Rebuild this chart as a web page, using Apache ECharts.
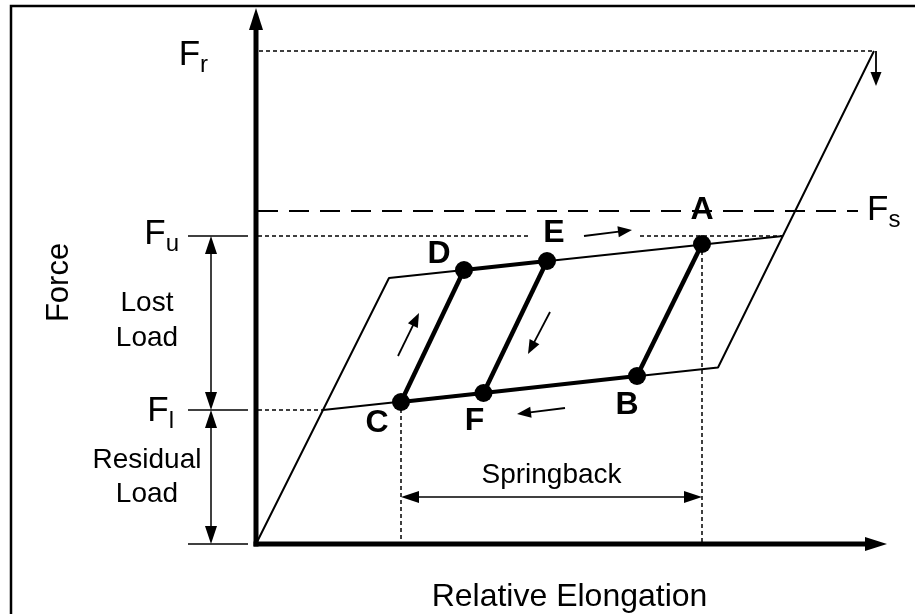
<!DOCTYPE html>
<html>
<head>
<meta charset="utf-8">
<script src="https://cdn.jsdelivr.net/npm/echarts@6/dist/echarts.min.js"></script>
<style>html,body{margin:0;padding:0;background:#fff}#c{width:915px;height:614px}</style>
</head>
<body>
<div id="c"></div>
<script>
// ---------- values (x: relative elongation, y: force, arbitrary units)
const forceLevels = [49.3, 33.3, 30.8, 13.4];          // F_r, F_s, F_u, F_l
const levelSubs = ['r', 's', 'u', 'l'];
const envelopeUpper = [[0, 0], [13.3, 26.6], [52.7, 30.8]];
const envelopeLower = [[6.7, 13.4], [46.2, 17.65], [61.8, 49.3]];
const pointNames = ['A', 'B', 'C', 'D', 'E', 'F'];
const pointX = [44.6, 38.1, 14.5, 20.8, 29.1, 22.75];
const pointY = [30.0, 16.8, 14.2, 27.4, 28.3, 15.1];
const boldPaths = [['C', 'D'], ['F', 'E'], ['B', 'A'], ['D', 'E'], ['C', 'F', 'B']];
const axisEnds = [63.1, 53.6];                          // end of elongation axis, end of force axis
const flowArrows = [
  [32.8, 30.8, 37.6, 31.4],
  [14.2, 18.8, 16.3, 23.1],
  [29.4, 23.2, 27.2, 19.0],
  [30.9, 13.6, 26.1, 13.0],
  [62.0, 49.3, 62.0, 45.8]
];
const fuGuideGap = [27.2, 38.4];   // where the F_u guide is interrupted
const fsGuideEnd = 60.2;
const springbackLevel = 4.7;
const dimensionX = -4.5;           // x of the Lost/Residual load dimension arrows
const tickSpan = [-6.8, -0.8];

// ---------- helpers
const FONT = '"Liberation Sans", Arial, Helvetica, sans-serif';
const [F_r, F_s, F_u, F_l] = forceLevels;
const P = name => { const i = pointNames.indexOf(name); return [pointX[i], pointY[i]]; };
const G0 = 0.2;

function pathSeries(points, width, dash, z) {
  return {
    type: 'line', data: points, symbol: 'none', silent: true, z: z || 2,
    lineStyle: { color: '#000', width: width, type: dash || 'solid', cap: 'butt', opacity: 1 }
  };
}

function arrowSeries(data, o) {
  return {
    type: 'custom', coordinateSystem: 'cartesian2d', data: data, silent: true, z: o.z || 4,
    encode: { x: [0, 2], y: [1, 3] },
    renderItem: function (params, api) {
      const a = api.coord([api.value(0), api.value(1)]);
      const b = api.coord([api.value(2), api.value(3)]);
      const dx = b[0] - a[0], dy = b[1] - a[1], L = Math.hypot(dx, dy);
      const ux = dx / L, uy = dy / L, px = -uy, py = ux;
      const hl = o.headLen, hw = o.headWidth / 2;
      const head = (t, sx, sy) => ({
        type: 'polygon',
        shape: { points: [t, [t[0] - sx * hl + px * hw, t[1] - sy * hl + py * hw], [t[0] - sx * hl - px * hw, t[1] - sy * hl - py * hw]] },
        style: { fill: '#000' }
      });
      const s = o.both ? [a[0] + ux * hl * 0.8, a[1] + uy * hl * 0.8] : a;
      const e = [b[0] - ux * hl * 0.8, b[1] - uy * hl * 0.8];
      const children = [
        { type: 'line', shape: { x1: s[0], y1: s[1], x2: e[0], y2: e[1] }, style: { stroke: '#000', lineWidth: o.lineWidth, lineCap: o.cap || 'butt' } },
        head(b, ux, uy)
      ];
      if (o.both) children.push(head(a, -ux, -uy));
      return { type: 'group', children: children };
    }
  };
}

const subRich = {
  F: { fontSize: 35, fontFamily: FONT },
  s: { fontSize: 24, fontFamily: FONT, verticalAlign: 'top', padding: [20, 0, 0, 0] }
};

// annotation texts anchored to chart values (layout offsets in px)
const annotations = [
  { at: [-4.8, F_r], text: '{F|F}{s|' + levelSubs[0] + '}', align: 'right', rich: subRich, dy: 4 },
  { at: [61.1, F_s], text: '{F|F}{s|' + levelSubs[1] + '}', align: 'left', rich: subRich, dy: -1 },
  { at: [-7.7, F_u], text: '{F|F}{s|' + levelSubs[2] + '}', align: 'right', rich: subRich, dy: -2 },
  { at: [-8.2, F_l], text: '{F|F}{s|' + levelSubs[3] + '}', align: 'right', rich: subRich, dy: 1 },
  { at: [-10.9, (F_u + F_l) / 2], text: 'Lost\nLoad', align: 'center', size: 28, lh: 35, dy: -2 },
  { at: [-10.9, F_l / 2], text: 'Residual\nLoad', align: 'center', size: 28, lh: 34 },
  { at: [(P('C')[0] + P('A')[0]) / 2, springbackLevel], text: 'Springback', align: 'center', size: 28, dy: -22 },
  { at: [axisEnds[0] / 2, 0], text: 'Relative Elongation', align: 'center', size: 32, dx: -2, dy: 53 },
  { at: [0, axisEnds[1] / 2], text: 'Force', align: 'center', size: 31, dx: -196.5, dy: 6.5, rot: Math.PI / 2 }
];

const labelOffsets = [[0, -34], [-10, 29], [-24, 21], [-25, -16], [7, -28], [-9, 28]];

const series = [];
// envelope (thin)
series.push(pathSeries(envelopeUpper, 2));
series.push(pathSeries(envelopeLower, 2));
// bold paths
boldPaths.forEach(p => series.push(pathSeries(p.map(P), p.length === 2 && Math.abs(P(p[0])[1] - P(p[1])[1]) > 5 ? 4.5 : 4, null, 3)));
// guides
series.push(pathSeries([[G0 + 0.1, F_r], [envelopeLower[2][0], F_r]], 1.5, [4, 3]));
series.push(pathSeries([[G0, F_s], [fsGuideEnd, F_s]], 2, [20, 11]));
series.push(pathSeries([[G0, F_u], [fuGuideGap[0], F_u]], 1.5, [4, 3]));
series.push(pathSeries([[fuGuideGap[1], F_u], [envelopeUpper[2][0], F_u]], 1.5, [4, 3]));
series.push(pathSeries([[G0, F_l], [envelopeLower[0][0], F_l]], 1.5, [4, 3]));
series.push(pathSeries([P('C'), [P('C')[0], 0]], 1.5, [4, 3]));
series.push(pathSeries([P('A'), [P('A')[0], 0]], 1.5, [4, 3]));
// tick lines at left
[F_u, F_l, 0].forEach(v => series.push(pathSeries([[tickSpan[0], v], [tickSpan[1], v]], 1.5)));
// axes
series.push(arrowSeries([[0, 0, axisEnds[0], 0], [0, 0, 0, axisEnds[1]]], { headLen: 22, headWidth: 14, lineWidth: 5, cap: 'square', z: 5 }));
// dimension arrows
series.push(arrowSeries([[dimensionX, F_u, dimensionX, F_l], [dimensionX, F_l, dimensionX, 0], [P('C')[0], springbackLevel, P('A')[0], springbackLevel]], { headLen: 18, headWidth: 12, lineWidth: 1.5, both: true }));
// flow direction arrows
series.push(arrowSeries(flowArrows, { headLen: 14, headWidth: 11, lineWidth: 1.8 }));
// state points
series.push({
  type: 'scatter', symbol: 'circle', symbolSize: 18, z: 6, silent: true,
  itemStyle: { color: '#000', opacity: 1 },
  data: pointNames.map((n, i) => ({ name: n, value: [pointX[i], pointY[i]], label: { offset: labelOffsets[i] } })),
  label: { show: true, position: 'inside', formatter: '{b}', color: '#000', opacity: 1, fontFamily: FONT, fontWeight: 'bold', fontSize: 32 }
});
// annotation texts
series.push({
  type: 'custom', coordinateSystem: 'cartesian2d', silent: true, z: 7,
  data: annotations.map(a => a.at),
  renderItem: function (params, api) {
    const a = annotations[params.dataIndex];
    const p = api.coord([api.value(0), api.value(1)]);
    return {
      type: 'text', x: p[0] + (a.dx || 0), y: p[1] + (a.dy || 0), rotation: a.rot || 0,
      style: {
        text: a.text, fill: '#000', fontFamily: FONT, fontSize: a.size || 35,
        align: a.align, verticalAlign: 'middle', lineHeight: a.lh, rich: a.rich
      }
    };
  }
});

const chart = echarts.init(document.getElementById('c'), null, { renderer: 'canvas' });
chart.setOption({
  animation: false,
  backgroundColor: '#fff',
  grid: { left: 0, right: 0, top: 0, bottom: 0, containLabel: false },
  xAxis: { type: 'value', min: -25.6, max: 65.9, show: false },
  yAxis: { type: 'value', min: -7, max: 54.4, show: false },
  graphic: [{
    type: 'polyline', silent: true,
    shape: { points: [[11, 640], [11, 6], [940, 6]] },
    style: { stroke: '#000', lineWidth: 2.5, fill: null }
  }],
  series: series
});
</script>
</body>
</html>
